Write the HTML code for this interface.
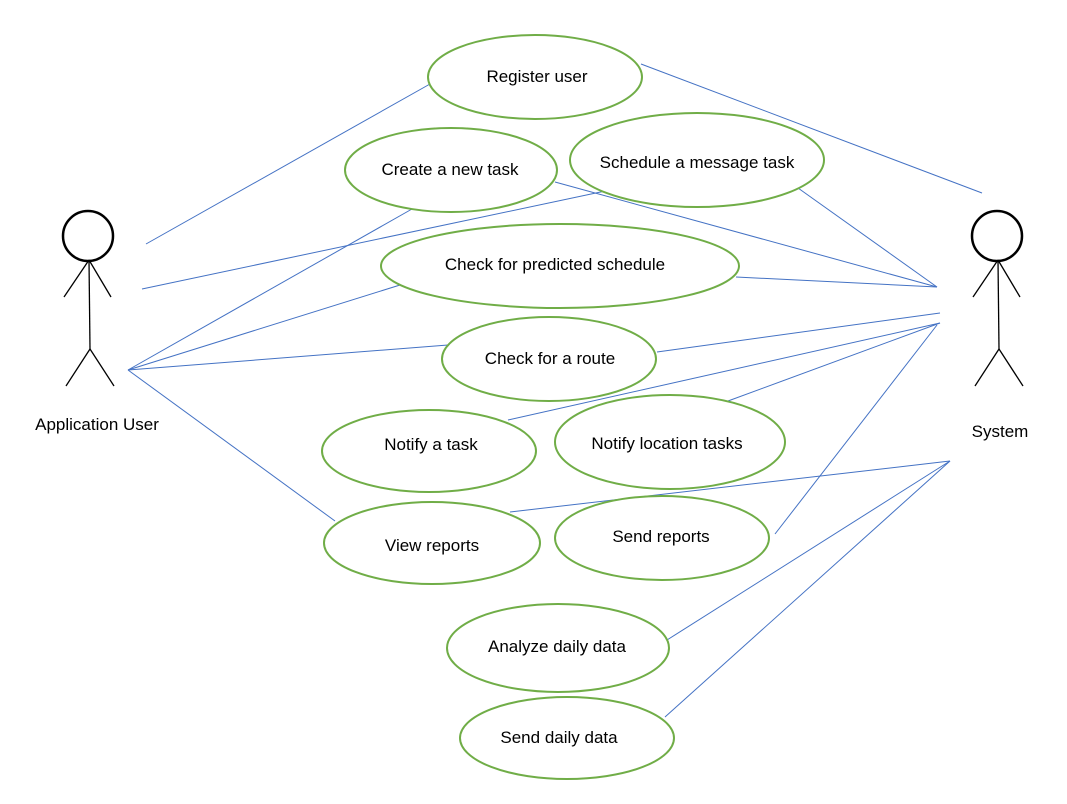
<!DOCTYPE html>
<html><head><meta charset="utf-8"><style>
html,body{margin:0;padding:0;background:#fff;}
svg text{font-family:"Liberation Sans",sans-serif;font-size:17px;fill:#000;}
</style></head><body>
<svg width="1067" height="799" viewBox="0 0 1067 799" xmlns="http://www.w3.org/2000/svg">
<g stroke="#4472C4" stroke-width="1" fill="none">
<line x1="146" y1="244" x2="430" y2="84"/>
<line x1="142" y1="289" x2="610" y2="190"/>
<line x1="128" y1="370" x2="412" y2="209"/>
<line x1="128" y1="370" x2="400" y2="285"/>
<line x1="128" y1="370" x2="448" y2="345"/>
<line x1="128" y1="370" x2="335" y2="521"/>
<line x1="641" y1="64" x2="982" y2="193"/>
<line x1="555" y1="182" x2="937" y2="287"/>
<line x1="798" y1="188" x2="937" y2="287"/>
<line x1="736" y1="277" x2="937" y2="287"/>
<line x1="657" y1="352" x2="940" y2="313"/>
<line x1="508" y1="420" x2="940" y2="323"/>
<line x1="728" y1="401" x2="940" y2="323"/>
<line x1="775" y1="534" x2="937" y2="325"/>
<line x1="510" y1="512" x2="950" y2="461"/>
<line x1="667" y1="640" x2="950" y2="461"/>
<line x1="665" y1="717" x2="950" y2="461"/>
</g>
<g stroke="#70AD47" stroke-width="2" fill="#fff">
<ellipse cx="535" cy="77" rx="107" ry="42"/>
<ellipse cx="451" cy="170" rx="106" ry="42"/>
<ellipse cx="697" cy="160" rx="127" ry="47"/>
<ellipse cx="560" cy="266" rx="179" ry="42"/>
<ellipse cx="549" cy="359" rx="107" ry="42"/>
<ellipse cx="429" cy="451" rx="107" ry="41"/>
<ellipse cx="670" cy="442" rx="115" ry="47"/>
<ellipse cx="432" cy="543" rx="108" ry="41"/>
<ellipse cx="662" cy="538" rx="107" ry="42"/>
<ellipse cx="558" cy="648" rx="111" ry="44"/>
<ellipse cx="567" cy="738" rx="107" ry="41"/>
</g>
<g text-anchor="middle">
<text x="537" y="82">Register user</text>
<text x="450" y="175">Create a new task</text>
<text x="697" y="168">Schedule a message task</text>
<text x="555" y="270">Check for predicted schedule</text>
<text x="550" y="364">Check for a route</text>
<text x="431" y="450">Notify a task</text>
<text x="667" y="449">Notify location tasks</text>
<text x="432" y="551">View reports</text>
<text x="661" y="542">Send reports</text>
<text x="557" y="652">Analyze daily data</text>
<text x="559" y="743">Send daily data</text>
<text x="97" y="430">Application User</text>
<text x="1000" y="437">System</text>
</g>
<g stroke="#000" stroke-width="1.3" fill="none">
<circle cx="88" cy="236" r="25" stroke-width="2.5"/>
<line x1="89" y1="260" x2="90" y2="349"/>
<line x1="89" y1="260" x2="64" y2="297"/>
<line x1="89" y1="260" x2="111" y2="297"/>
<line x1="90" y1="349" x2="66" y2="386"/>
<line x1="90" y1="349" x2="114" y2="386"/>
<circle cx="997" cy="236" r="25" stroke-width="2.5"/>
<line x1="998" y1="260" x2="999" y2="349"/>
<line x1="998" y1="260" x2="973" y2="297"/>
<line x1="998" y1="260" x2="1020" y2="297"/>
<line x1="999" y1="349" x2="975" y2="386"/>
<line x1="999" y1="349" x2="1023" y2="386"/>
</g>
</svg>
</body></html>
